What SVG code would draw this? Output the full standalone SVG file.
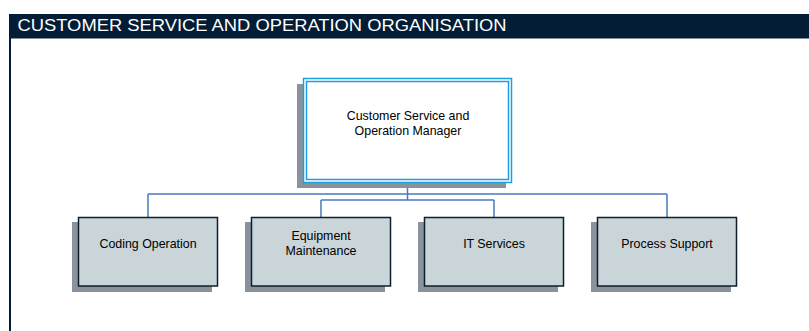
<svg xmlns="http://www.w3.org/2000/svg" width="809" height="331" viewBox="0 0 809 331">
<style>
.shadow{fill:#8a939b;}
.box{fill:#c9d5d8;stroke:#0d1e2e;stroke-width:1.5;}
.lbl{font-family:"Liberation Sans",Arial,sans-serif;font-size:12.4px;fill:#000;text-anchor:middle;}
.conn{fill:none;stroke:#4a78c0;stroke-width:1.5;}
</style>
<rect x="0" y="0" width="809" height="331" fill="#ffffff"/>
<g id="header">
<rect x="9" y="14" width="800" height="24.5" fill="#021d35"/>
<line x1="10" y1="38" x2="10" y2="331" stroke="#021d35" stroke-width="2"/>
<text x="17.5" y="30.5" font-family="'Liberation Sans',Arial,sans-serif" font-size="17" fill="#ffffff" textLength="489" lengthAdjust="spacingAndGlyphs">CUSTOMER SERVICE AND OPERATION ORGANISATION</text>
</g>
<g id="connectors">
<path class="conn" d="M407.5 183 V194 M148 194 H667 M148 194 V217 M667 194 V217 M407.5 194 V200 M321 200 H494 M321 200 V217 M494 200 V217"/>
</g>
<g id="manager">
<rect class="shadow" x="297" y="84" width="209" height="104"/>
<rect x="303.5" y="78.5" width="208" height="104" fill="#ffffff" stroke="#1e9ee0" stroke-width="1.5"/>
<rect x="306.5" y="81.5" width="202" height="98" fill="none" stroke="#1e9ee0" stroke-width="1.5"/>
<text class="lbl" x="408" y="120">Customer Service and</text>
<text class="lbl" x="408" y="135">Operation Manager</text>
</g>
<g id="coding">
<rect class="shadow" x="72" y="222" width="140" height="70"/>
<rect class="box" x="78.5" y="217.5" width="139" height="68.5"/>
<text class="lbl" x="148" y="248">Coding Operation</text>
</g>
<g id="equipment">
<rect class="shadow" x="245" y="222" width="140" height="70"/>
<rect class="box" x="251.5" y="217.5" width="139" height="68.5"/>
<text class="lbl" x="321" y="240">Equipment</text>
<text class="lbl" x="321" y="255">Maintenance</text>
</g>
<g id="it">
<rect class="shadow" x="418" y="222" width="140" height="70"/>
<rect class="box" x="424.5" y="217.5" width="139" height="68.5"/>
<text class="lbl" x="494" y="248">IT Services</text>
</g>
<g id="process">
<rect class="shadow" x="591" y="222" width="140" height="70"/>
<rect class="box" x="597.5" y="217.5" width="139" height="68.5"/>
<text class="lbl" x="667" y="248">Process Support</text>
</g>
</svg>
